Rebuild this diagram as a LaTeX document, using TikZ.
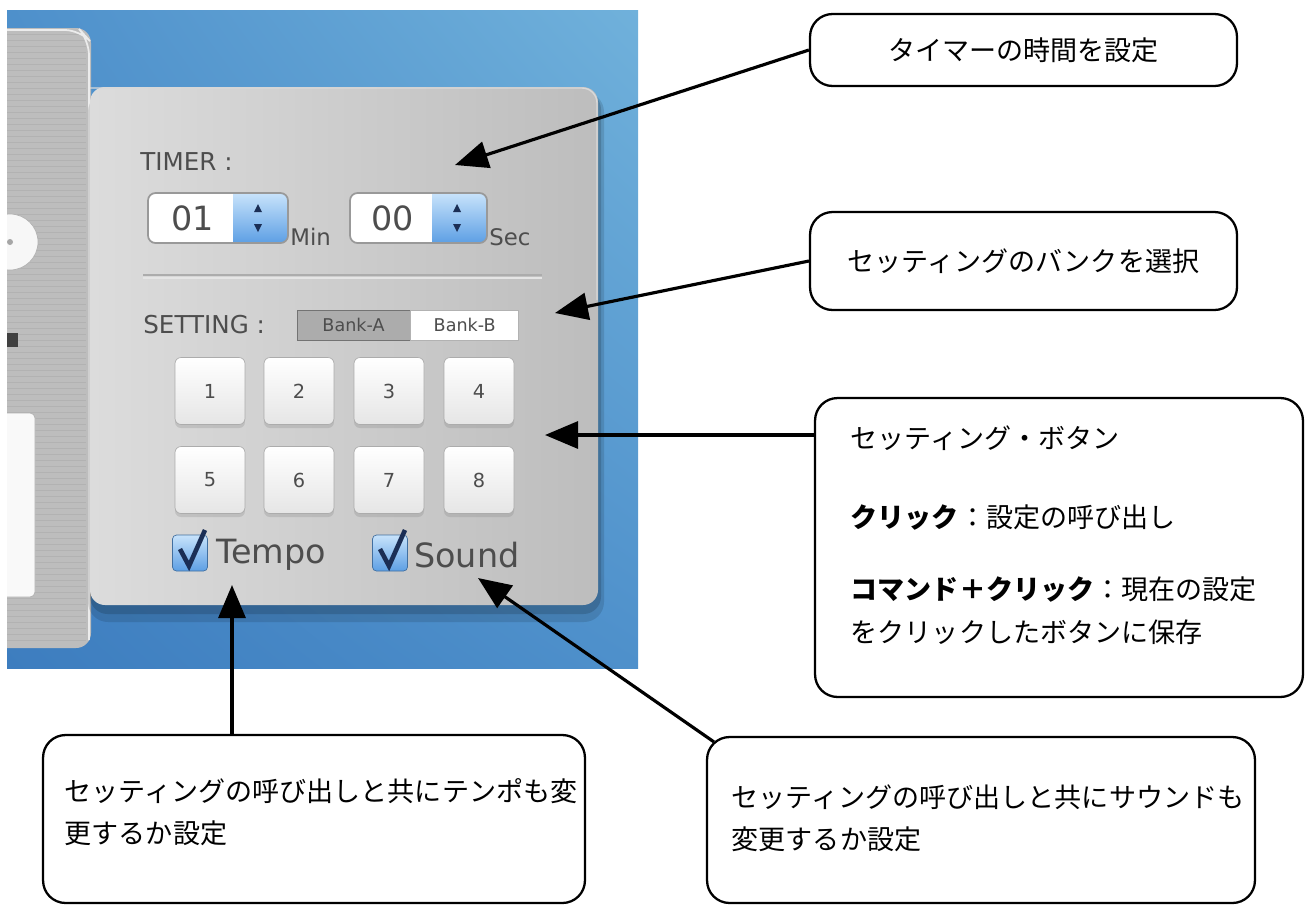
\documentclass[tikz,border=0pt]{standalone}
\usepackage{fontspec}
\usepackage{tikz}
\setmainfont{Noto Sans CJK JP}
\newfontfamily\uifont{DejaVu Sans}
\usetikzlibrary{positioning,arrows.meta,calc,shadows,shadings}

\definecolor{deskdark}{HTML}{3D7DBF}
\definecolor{deskmid}{HTML}{4E90CB}
\definecolor{desklight}{HTML}{70B1DB}
\definecolor{metal}{HTML}{BDBDBD}
\definecolor{metalline}{HTML}{B2B2B2}
\definecolor{panelleft}{HTML}{DCDCDC}
\definecolor{panelright}{HTML}{BDBDBD}
\definecolor{uitext}{HTML}{4D4D4D}
\definecolor{aquatop}{HTML}{C8E3FB}
\definecolor{aquabot}{HTML}{5D9FE4}
\definecolor{aquaink}{HTML}{1B2E55}

\begin{document}
\begin{tikzpicture}[x=0.02cm, y=-0.02cm,
    callout/.style={draw, line width=1.3pt, rounded corners=0.45cm, align=left, fill=white, font=\fontsize{15.4}{24}\selectfont},
    arrow/.style={-{Triangle[length=6.6mm, width=5.4mm]}, line width=1.8pt},
    uilabel/.style={text=uitext, inner sep=0pt},
    keybtn/.style={draw=gray!65, rounded corners=0.12cm, minimum width=1.4cm, minimum height=1.34cm, top color=white, bottom color=gray!20, font=\uifont\fontsize{11}{11}\selectfont, text=uitext, drop shadow={shadow xshift=0pt, shadow yshift=-2pt, opacity=0.25}},
    checkbox/.style={draw=aquabot!70!black, rounded corners=0.08cm, minimum width=0.7cm, minimum height=0.72cm, top color=aquatop, bottom color=aquabot, inner sep=0pt},
    bankseg/.style={draw=gray!110, minimum height=0.6cm, inner sep=0pt, font=\uifont\fontsize{10}{10}\selectfont, text=uitext}
]
\useasboundingbox[fill=white] (0,0) rectangle (1307,904);

% Screenshot
\begin{scope}
\clip (7,10) rectangle (638,668);
\shade[upper left=deskmid, upper right=desklight, lower left=deskdark, lower right=deskmid] (7,10) rectangle (638,668);
% left panel
\fill[metal, rounded corners=0.3cm] (-20,28) rectangle (91,648);
\foreach \yy in {34,40,...,640} \draw[metalline, line width=0.4pt] (7,\yy) -- (86,\yy);
\draw[white!85!gray, line width=1pt, rounded corners=0.3cm] (7,30) -- (80,30) -- (89,40) -- (89,640);
\fill[white!94!gray, draw=gray!60] (10,242) circle (28);
\fill[gray!70] (10,242) circle (3);
\fill[black!75] (7,333) rectangle (18,347);
\fill[white!95!gray, draw=gray!60, rounded corners=0.1cm] (-10,413) rectangle (35,597);
% main panel
\fill[black, opacity=0.12, rounded corners=0.4cm] (88,92) rectangle (604,622);
\fill[black, opacity=0.15, rounded corners=0.35cm] (90,92) rectangle (601,614);
\shade[left color=panelleft, right color=panelright, rounded corners=0.3cm] (90,87) rectangle (598,605);
\draw[white!70!gray, line width=0.8pt, rounded corners=0.3cm] (90,88) -- (597,88) -- (597,300);
\end{scope}

% Timer
\node[uilabel, anchor=west, font=\uifont\fontsize{14}{14}\selectfont] (timerlbl) at (140,162) {TIMER :};
\begin{scope}
\clip[rounded corners=0.15cm] (148,193) rectangle (288,243);
\fill[white] (148,193) rectangle (233,243);
\shade[top color=aquatop, bottom color=aquabot] (233,193) rectangle (288,243);
\end{scope}
\draw[gray!80, line width=1pt, rounded corners=0.15cm] (148,193) rectangle (288,243);
\fill[aquaink] (254,212) -- (262,212) -- (258,204) -- cycle;
\fill[aquaink] (254,224) -- (262,224) -- (258,232) -- cycle;
\node[uilabel, font=\uifont\fontsize{19}{19}\selectfont] (minval) at (193,218) {01};
\node[uilabel, anchor=base west, font=\uifont\fontsize{13}{13}\selectfont] (minlbl) at (290,245) {Min};

\begin{scope}
\clip[rounded corners=0.15cm] (350,193) rectangle (487,243);
\fill[white] (350,193) rectangle (432,243);
\shade[top color=aquatop, bottom color=aquabot] (432,193) rectangle (487,243);
\end{scope}
\draw[gray!80, line width=1pt, rounded corners=0.15cm] (350,193) rectangle (487,243);
\fill[aquaink] (453,212) -- (461,212) -- (457,204) -- cycle;
\fill[aquaink] (453,224) -- (461,224) -- (457,232) -- cycle;
\node[uilabel, font=\uifont\fontsize{19}{19}\selectfont] (secval) at (393,218) {00};
\node[uilabel, anchor=base west, font=\uifont\fontsize{13}{13}\selectfont] (seclbl) at (489,245) {Sec};

\draw[gray!65, line width=1.2pt] (143,275) -- (542,275);
\draw[white!80!gray, line width=0.8pt] (143,278) -- (542,278);

% Setting banks
\node[uilabel, anchor=west, font=\uifont\fontsize{14}{14}\selectfont] (setlbl) at (143,325) {SETTING :};
\node[bankseg, fill=gray!65, minimum width=2.26cm] (banka) at (353.5,325) {Bank-A};
\node[bankseg, draw=gray!60, fill=white, minimum width=2.16cm, right=0pt of banka] (bankb) {Bank-B};

% Setting buttons
\foreach \n/\bx/\by in {1/210/391, 2/299/391, 3/389/391, 4/479/391, 5/210/480, 6/299/480, 7/389/480, 8/479/480}
  \node[keybtn] (key\n) at (\bx,\by) {\n};

% Checkboxes
\node[checkbox] (tempocheck) at (190,553) {};
\draw[aquaink, line width=2.6pt] (180,549) -- (189,566) -- (205,530);
\node[uilabel, anchor=west, font=\uifont\fontsize{19}{19}\selectfont] (tempolbl) at (216,555) {Tempo};
\node[checkbox] (soundcheck) at (390,553) {};
\draw[aquaink, line width=2.6pt] (380,549) -- (389,566) -- (405,530);
\node[uilabel, anchor=west, font=\uifont\fontsize{19}{19}\selectfont] (soundlbl) at (414,555) {Sound};

% Callouts
\node[callout, align=center, minimum width=8.54cm, minimum height=1.44cm] (timernote) at (1023.5,50) {タイマーの時間を設定};
\node[callout, align=center, minimum width=8.54cm, minimum height=1.96cm] (banknote) at (1023.5,261) {セッティングのバンクを選択};
\node[callout, minimum width=9.76cm, minimum height=5.98cm] (keynote) at (1059,547.5) {\begin{tabular}{@{}l@{\hspace{6pt}}}
セッティング・ボタン\\[21pt]
\textbf{クリック}：設定の呼び出し\\[17pt]
\textbf{コマンド＋クリック}：現在の設定\\
をクリックしたボタンに保存\\[12pt]
\end{tabular}};
\node[callout, minimum width=10.84cm, minimum height=3.36cm] (temponote) at (314,819) {\begin{tabular}{@{\hspace{8pt}}l@{}}
セッティングの呼び出しと共にテンポも変\\
更するか設定\\[6pt]
\end{tabular}};
\node[callout, minimum width=10.96cm, minimum height=3.32cm] (soundnote) at (981,820) {\begin{tabular}{@{\hspace{8pt}}l@{}}
セッティングの呼び出しと共にサウンドも\\
変更するか設定
\end{tabular}};

% Arrows
\coordinate (timertip) at (455,165);
\coordinate (banktip) at (555,313);
\coordinate (keytip) at (545,435);
\coordinate (tempotip) at (232,585);
\coordinate (soundtip) at (478,578);
\draw[arrow] (timernote.west) -- (timertip);
\draw[arrow] (banknote.west) -- (banktip);
\draw[arrow] (keynote.west |- keytip) -- (keytip);
\draw[arrow] (temponote.north -| tempotip) -- (tempotip);
\draw[arrow] ($(soundnote.north west)+(8,6)$) -- (soundtip);

\end{tikzpicture}
\end{document}
